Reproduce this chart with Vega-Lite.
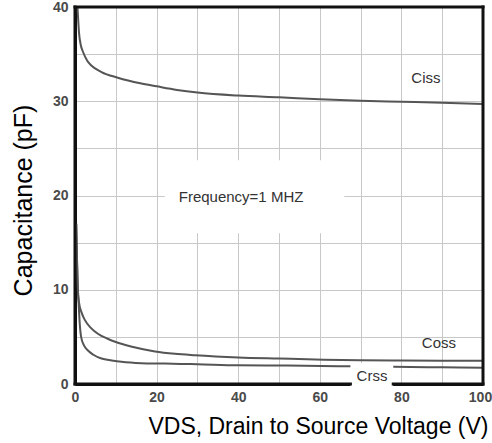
{
  "$schema": "https://vega.github.io/schema/vega-lite/v6.json",
  "width": 408,
  "height": 377,
  "autosize": {"type": "none"},
  "padding": {"left": 75, "top": 7, "right": 9, "bottom": 59},
  "background": "white",
  "config": {
    "font": "Liberation Sans",
    "view": {"stroke": null}
  },
  "datasets": {
    "curves": [
      {"series": "Ciss", "v": 0.6, "c": 40},
      {"series": "Ciss", "v": 0.8, "c": 38.5},
      {"series": "Ciss", "v": 1.0, "c": 37.2},
      {"series": "Ciss", "v": 1.4, "c": 36.0},
      {"series": "Ciss", "v": 2.0, "c": 35.2},
      {"series": "Ciss", "v": 3.0, "c": 34.3},
      {"series": "Ciss", "v": 4.0, "c": 33.8},
      {"series": "Ciss", "v": 6.5, "c": 33.1},
      {"series": "Ciss", "v": 10.5, "c": 32.5},
      {"series": "Ciss", "v": 16, "c": 31.9},
      {"series": "Ciss", "v": 20, "c": 31.58},
      {"series": "Ciss", "v": 25, "c": 31.2},
      {"series": "Ciss", "v": 30, "c": 30.92},
      {"series": "Ciss", "v": 40, "c": 30.6},
      {"series": "Ciss", "v": 50, "c": 30.42},
      {"series": "Ciss", "v": 60, "c": 30.22},
      {"series": "Ciss", "v": 70, "c": 30.06},
      {"series": "Ciss", "v": 80, "c": 29.95},
      {"series": "Ciss", "v": 90, "c": 29.84},
      {"series": "Ciss", "v": 100, "c": 29.7},
      {"series": "Coss", "v": 0.3, "c": 17},
      {"series": "Coss", "v": 0.5, "c": 13},
      {"series": "Coss", "v": 0.7, "c": 10},
      {"series": "Coss", "v": 1.0, "c": 8.6},
      {"series": "Coss", "v": 1.6, "c": 7.6},
      {"series": "Coss", "v": 2.4, "c": 6.8},
      {"series": "Coss", "v": 4.0, "c": 5.9},
      {"series": "Coss", "v": 5.7, "c": 5.3},
      {"series": "Coss", "v": 8, "c": 4.8},
      {"series": "Coss", "v": 10, "c": 4.45},
      {"series": "Coss", "v": 14, "c": 3.95},
      {"series": "Coss", "v": 19.6, "c": 3.45},
      {"series": "Coss", "v": 24.5, "c": 3.2},
      {"series": "Coss", "v": 29.4, "c": 3.05},
      {"series": "Coss", "v": 40, "c": 2.82},
      {"series": "Coss", "v": 50, "c": 2.7},
      {"series": "Coss", "v": 61, "c": 2.58},
      {"series": "Coss", "v": 70, "c": 2.53},
      {"series": "Coss", "v": 80, "c": 2.5},
      {"series": "Coss", "v": 90, "c": 2.48},
      {"series": "Coss", "v": 100, "c": 2.47},
      {"series": "Crss", "v": 0.3, "c": 17},
      {"series": "Crss", "v": 0.5, "c": 13},
      {"series": "Crss", "v": 0.7, "c": 10},
      {"series": "Crss", "v": 0.9, "c": 8.5},
      {"series": "Crss", "v": 1.1, "c": 6.8},
      {"series": "Crss", "v": 1.5, "c": 5.0},
      {"series": "Crss", "v": 2.2, "c": 4.1},
      {"series": "Crss", "v": 3.3, "c": 3.5},
      {"series": "Crss", "v": 4.5, "c": 3.1},
      {"series": "Crss", "v": 6.5, "c": 2.7},
      {"series": "Crss", "v": 9, "c": 2.5},
      {"series": "Crss", "v": 11.4, "c": 2.35},
      {"series": "Crss", "v": 16.3, "c": 2.2},
      {"series": "Crss", "v": 20, "c": 2.17},
      {"series": "Crss", "v": 24, "c": 2.16},
      {"series": "Crss", "v": 30, "c": 2.1},
      {"series": "Crss", "v": 40, "c": 1.98},
      {"series": "Crss", "v": 52, "c": 1.95},
      {"series": "Crss", "v": 67, "c": 1.88},
      {"series": "Crss", "v": 78, "c": 1.82},
      {"series": "Crss", "v": 90, "c": 1.77},
      {"series": "Crss", "v": 100, "c": 1.73}
    ],
    "edges": [
      {"ex": 0, "ey": 0, "ex2": 67.5, "ey2": 0},
      {"ex": 78, "ey": 0, "ex2": 100, "ey2": 0},
      {"ex": 0, "ey": 40, "ex2": 100, "ey2": 40},
      {"ex": 0, "ey": 0, "ex2": 0, "ey2": 40},
      {"ex": 100, "ey": 0, "ex2": 100, "ey2": 40}
    ],
    "boxes": [
      {"bx": 22, "bx2": 66, "by": 16, "by2": 23.75},
      {"bx": 67.5, "bx2": 78, "by": -0.7, "by2": 2.2}
    ],
    "notes": [
      {"note": "Ciss", "nx": 86, "ny": 32.5},
      {"note": "Coss", "nx": 89.2, "ny": 4.4},
      {"note": "Crss", "nx": 72.8, "ny": 0.85},
      {"note": "Frequency=1 MHZ", "nx": 40.7, "ny": 19.8}
    ]
  },
  "layer": [
    {
      "data": {"name": "curves"},
      "mark": {"type": "line", "interpolate": "monotone", "color": "#555555", "strokeWidth": 2},
      "encoding": {
        "x": {
          "field": "v", "type": "quantitative",
          "scale": {"domain": [0, 100], "nice": false},
          "axis": {
            "values": [0, 10, 20, 30, 40, 50, 60, 70, 80, 90, 100],
            "labelExpr": "datum.value % 20 === 0 ? datum.label : ''",
            "grid": true, "gridColor": "#c8c8c8", "gridWidth": 1,
            "domain": true, "domainColor": "#111111", "domainWidth": 3,
            "ticks": false,
            "labelFlush": false, "labelPadding": 6,
            "labelOffset": {"condition": {"test": "datum.value === 100", "value": -3}, "value": 0},
            "labelFontSize": 14, "labelFontWeight": "bold", "labelColor": "#4a4a4a",
            "title": "VDS, Drain to Source Voltage (V)",
            "titleFontSize": 23, "titleFontWeight": "normal", "titleColor": "#000000",
            "titleX": 413, "titleY": 49, "titleAlign": "right", "titleBaseline": "alphabetic"
          }
        },
        "y": {
          "field": "c", "type": "quantitative",
          "scale": {"domain": [0, 40], "nice": false},
          "axis": {
            "values": [0, 5, 10, 15, 20, 25, 30, 35, 40],
            "labelExpr": "datum.value % 10 === 0 ? datum.label : ''",
            "grid": true, "gridColor": "#c8c8c8", "gridWidth": 1,
            "domain": true, "domainColor": "#111111", "domainWidth": 3,
            "ticks": false,
            "labelFlush": false, "labelPadding": 7,
            "labelFontSize": 14, "labelFontWeight": "bold", "labelColor": "#4a4a4a",
            "title": "Capacitance (pF)",
            "titleFontSize": 25, "titleFontWeight": "normal", "titleColor": "#000000",
            "titleAngle": 270, "titleX": -44, "titleY": 193,
            "titleAlign": "center", "titleBaseline": "alphabetic"
          }
        },
        "detail": {"field": "series"}
      }
    },
    {
      "data": {"name": "boxes"},
      "mark": {"type": "rect", "fill": "white"},
      "encoding": {
        "x": {"field": "bx", "type": "quantitative"},
        "x2": {"field": "bx2"},
        "y": {"field": "by", "type": "quantitative"},
        "y2": {"field": "by2"}
      }
    },
    {
      "data": {"name": "notes"},
      "mark": {"type": "text", "fontSize": 15, "color": "#333333", "baseline": "middle", "align": "center"},
      "encoding": {
        "x": {"field": "nx", "type": "quantitative"},
        "y": {"field": "ny", "type": "quantitative"},
        "text": {"field": "note"}
      }
    },
    {
      "data": {"name": "edges"},
      "mark": {"type": "rule", "color": "#111111", "strokeWidth": 3, "strokeCap": "square"},
      "encoding": {
        "x": {"field": "ex", "type": "quantitative"},
        "x2": {"field": "ex2"},
        "y": {"field": "ey", "type": "quantitative"},
        "y2": {"field": "ey2"}
      }
    }
  ]
}
